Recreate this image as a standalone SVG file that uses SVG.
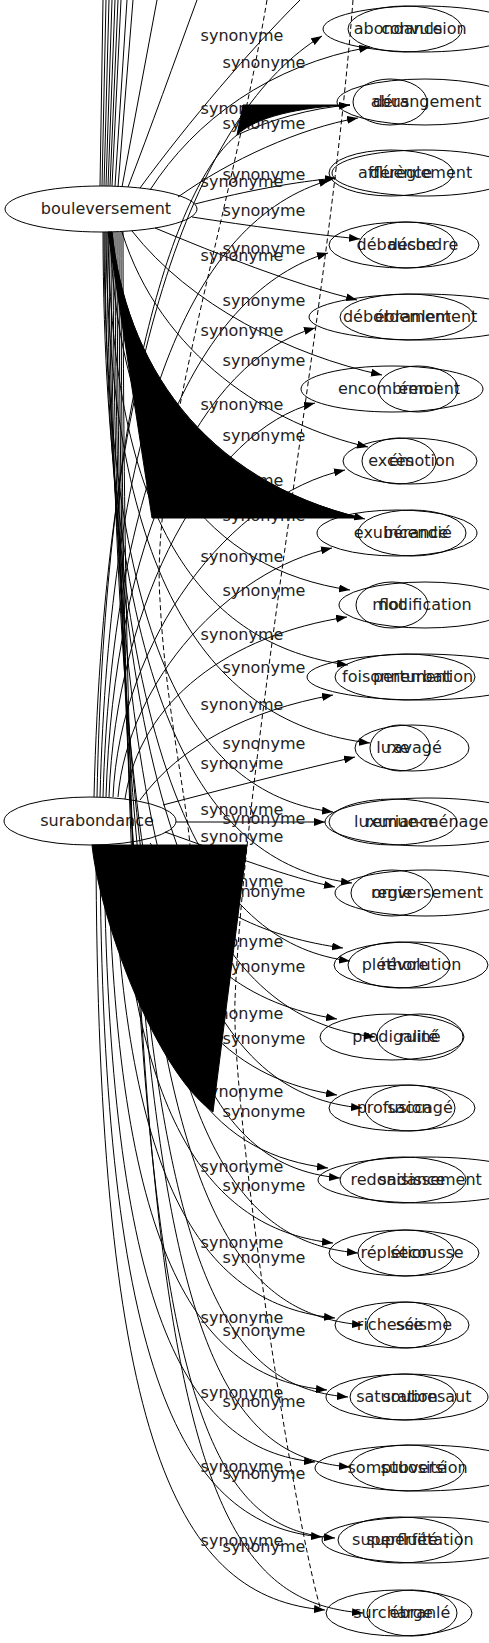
<svg xmlns="http://www.w3.org/2000/svg" width="489" height="1643" viewBox="0 0 489 1643">
<defs>
<marker id="a" markerWidth="11" markerHeight="8" refX="11" refY="4" orient="auto" markerUnits="userSpaceOnUse"><path d="M0,0 L11,4 L0,8 z" fill="#000"/></marker>
<style>
.n ellipse{fill:none;stroke:#000;stroke-width:1}
.t{font-family:"DejaVu Sans",sans-serif;font-size:16px;fill:#222;text-anchor:middle}
.e path{fill:none;stroke:#000;stroke-width:1}
.e .ar{marker-end:url(#a)}
.e .d{stroke-dasharray:5,3}
.e .blob{fill:#000;stroke:#000}
.l{font-family:"DejaVu Sans",sans-serif;font-size:16px;fill:#222;text-anchor:middle}
</style>
</defs>
<rect width="489" height="1643" fill="#fff"/>
<g id="nodes">
<g id="n-bouleversement" class="n"><ellipse cx="101" cy="209" rx="96" ry="23"/><text class="t" x="106" y="214">bouleversement</text></g>
<g id="n-surabondance" class="n"><ellipse cx="90" cy="821" rx="86" ry="24"/><text class="t" x="97" y="826">surabondance</text></g>
<g id="n-convulsion" class="n"><ellipse cx="422" cy="29" rx="99" ry="23"/><text class="t" x="424" y="34">convulsion</text></g>
<g id="n-abondance" class="n"><ellipse cx="405" cy="29" rx="57" ry="23"/><text class="t" x="398" y="34">abondance</text></g>
<g id="n-derangement" class="n"><ellipse cx="425" cy="102" rx="88" ry="23"/><text class="t" x="427" y="107">dérangement</text></g>
<g id="n-abus" class="n"><ellipse cx="390" cy="102" rx="37" ry="23"/><text class="t" x="390" y="107">abus</text></g>
<g id="n-dereglement" class="n"><ellipse cx="424" cy="173" rx="92" ry="23"/><text class="t" x="421" y="178">dérèglement</text></g>
<g id="n-affluence" class="n"><ellipse cx="391" cy="173" rx="62" ry="23"/><text class="t" x="395" y="178">affluence</text></g>
<g id="n-debauche" class="n"><ellipse cx="404" cy="245" rx="75" ry="23"/><text class="t" x="396" y="250">débauche</text></g>
<g id="n-desordre" class="n"><ellipse cx="407" cy="245" rx="48" ry="23"/><text class="t" x="423" y="250">désordre</text></g>
<g id="n-ebranlement" class="n"><ellipse cx="420" cy="317" rx="111" ry="23"/><text class="t" x="426" y="322">ébranlement</text></g>
<g id="n-debordement" class="n"><ellipse cx="407" cy="317" rx="67" ry="23"/><text class="t" x="397" y="322">débordement</text></g>
<g id="n-encombrement" class="n"><ellipse cx="392" cy="389" rx="91" ry="23"/><text class="t" x="399" y="394">encombrement</text></g>
<g id="n-emoi" class="n"><ellipse cx="418" cy="389" rx="40" ry="23"/><text class="t" x="418" y="394">émoi</text></g>
<g id="n-emotion" class="n"><ellipse cx="410" cy="461" rx="67" ry="23"/><text class="t" x="422" y="466">émotion</text></g>
<g id="n-exces" class="n"><ellipse cx="399" cy="461" rx="37" ry="23"/><text class="t" x="391" y="466">excès</text></g>
<g id="n-exuberance" class="n"><ellipse cx="397" cy="533" rx="80" ry="23"/><text class="t" x="401" y="538">exubérance</text></g>
<g id="n-incendie" class="n"><ellipse cx="412" cy="533" rx="54" ry="23"/><text class="t" x="418" y="538">incendié</text></g>
<g id="n-modification" class="n"><ellipse cx="425" cy="605" rx="86" ry="23"/><text class="t" x="422" y="610">modification</text></g>
<g id="n-flot" class="n"><ellipse cx="392" cy="605" rx="36" ry="23"/><text class="t" x="392" y="610">flot</text></g>
<g id="n-perturbation" class="n"><ellipse cx="420" cy="677" rx="113" ry="23"/><text class="t" x="423" y="682">perturbation</text></g>
<g id="n-foisonnement" class="n"><ellipse cx="405" cy="677" rx="70" ry="23"/><text class="t" x="397" y="682">foisonnement</text></g>
<g id="n-ravage" class="n"><ellipse cx="412" cy="748" rx="57" ry="23"/><text class="t" x="414" y="753">ravagé</text></g>
<g id="n-luxe" class="n"><ellipse cx="400" cy="748" rx="30" ry="23"/><text class="t" x="393" y="753">luxe</text></g>
<g id="n-remue-menage" class="n"><ellipse cx="428" cy="822" rx="103" ry="24"/><text class="t" x="427" y="827">remue-ménage</text></g>
<g id="n-luxuriance" class="n"><ellipse cx="393" cy="822" rx="64" ry="23"/><text class="t" x="396" y="827">luxuriance</text></g>
<g id="n-renversement" class="n"><ellipse cx="426" cy="893" rx="91" ry="23"/><text class="t" x="427" y="898">renversement</text></g>
<g id="n-orgie" class="n"><ellipse cx="392" cy="893" rx="41" ry="23"/><text class="t" x="392" y="898">orgie</text></g>
<g id="n-revolution" class="n"><ellipse cx="411" cy="965" rx="77" ry="23"/><text class="t" x="421" y="970">révolution</text></g>
<g id="n-plethore" class="n"><ellipse cx="399" cy="965" rx="51" ry="23"/><text class="t" x="395" y="970">pléthore</text></g>
<g id="n-prodigalite" class="n"><ellipse cx="392" cy="1037" rx="72" ry="23"/><text class="t" x="395" y="1042">prodigalité</text></g>
<g id="n-ruine" class="n"><ellipse cx="420" cy="1037" rx="43" ry="23"/><text class="t" x="420" y="1042">ruiné</text></g>
<g id="n-profusion" class="n"><ellipse cx="402" cy="1108" rx="73" ry="23"/><text class="t" x="394" y="1113">profusion</text></g>
<g id="n-saccage" class="n"><ellipse cx="410" cy="1108" rx="45" ry="23"/><text class="t" x="420" y="1113">saccagé</text></g>
<g id="n-saisissement" class="n"><ellipse cx="426" cy="1180" rx="108" ry="23"/><text class="t" x="430" y="1185">saisissement</text></g>
<g id="n-redondance" class="n"><ellipse cx="403" cy="1180" rx="63" ry="23"/><text class="t" x="398" y="1185">redondance</text></g>
<g id="n-secousse" class="n"><ellipse cx="404" cy="1253" rx="75" ry="23"/><text class="t" x="427" y="1258">secousse</text></g>
<g id="n-repletion" class="n"><ellipse cx="406" cy="1253" rx="48" ry="23"/><text class="t" x="396" y="1258">réplétion</text></g>
<g id="n-richesse" class="n"><ellipse cx="402" cy="1325" rx="67" ry="23"/><text class="t" x="390" y="1330">richesse</text></g>
<g id="n-seisme" class="n"><ellipse cx="407" cy="1325" rx="40" ry="23"/><text class="t" x="424" y="1330">séisme</text></g>
<g id="n-soubresaut" class="n"><ellipse cx="407" cy="1397" rx="81" ry="23"/><text class="t" x="427" y="1402">soubresaut</text></g>
<g id="n-saturation" class="n"><ellipse cx="403" cy="1397" rx="53" ry="23"/><text class="t" x="397" y="1402">saturation</text></g>
<g id="n-subversion" class="n"><ellipse cx="420" cy="1468" rx="105" ry="23"/><text class="t" x="424" y="1473">subversion</text></g>
<g id="n-somptuosite" class="n"><ellipse cx="407" cy="1468" rx="57" ry="23"/><text class="t" x="397" y="1473">somptuosité</text></g>
<g id="n-superfetation" class="n"><ellipse cx="424" cy="1540" rx="102" ry="23"/><text class="t" x="420" y="1545">superfétation</text></g>
<g id="n-superfluite" class="n"><ellipse cx="400" cy="1540" rx="62" ry="23"/><text class="t" x="395" y="1545">superfluité</text></g>
<g id="n-surcharge" class="n"><ellipse cx="399" cy="1613" rx="73" ry="23"/><text class="t" x="393" y="1618">surcharge</text></g>
<g id="n-ebranle" class="n"><ellipse cx="412" cy="1613" rx="45" ry="23"/><text class="t" x="420" y="1618">ébranlé</text></g>
</g>
<g id="connectors" class="e">
<path d="M100,186 L103,0"/><path d="M102,186 L106,0"/><path d="M104,186 L109,0"/><path d="M106,186 L112,0"/><path d="M108,186 L115,0"/><path d="M110,186 L118,0"/><path d="M112,186 L121,0"/><path d="M115,186 L127,0"/><path d="M118,187 L133,0"/><path d="M122,187 L157,0"/>
<path d="M128,187 C150,130 175,60 197,0"/><path d="M140,188 C190,120 250,50 300,0"/>
<path class="d" d="M267,0 C230,220 150,460 160,600 C165,700 185,790 190,845"/>
<path class="d" d="M353,0 C330,300 245,750 235,1000 C231,1100 290,1500 320,1607"/>
<path class="ar" d="M150,190 C195,120 270,65 370,47"/>
<path class="ar" d="M178,197 C230,160 300,128 358,118"/>
<path class="ar" d="M195,204 C250,190 295,182 336,178"/>
<path class="ar" d="M192,217 C250,226 310,234 360,239"/>
<path class="ar" d="M155,228 C220,255 290,283 357,300"/>
<path class="ar" d="M132,231 C190,305 290,355 382,375"/>
<path class="ar" d="M122,232 C160,355 270,425 368,447"/>
<path class="ar" d="M112,232 C125,360 200,480 365,519"/>
<path class="ar" d="M110,232 C118,460 210,570 350,590"/>
<path class="ar" d="M108,232 C112,520 200,645 348,665"/>
<path class="ar" d="M106,232 C108,580 210,725 370,743"/>
<path class="ar" d="M104,232 C105,660 200,795 333,812"/>
<path class="ar" d="M103,232 C104,720 210,865 352,883"/>
<path class="ar" d="M105,232 C106,800 220,945 350,961"/>
<path class="ar" d="M107,232 C108,880 230,1020 375,1037"/>
<path class="ar" d="M109,232 C110,950 220,1095 362,1108"/>
<path class="ar" d="M111,232 C112,1020 200,1165 340,1178"/>
<path class="ar" d="M113,232 C114,1090 210,1240 358,1253"/>
<path class="ar" d="M115,232 C116,1160 210,1312 363,1325"/>
<path class="ar" d="M117,232 C118,1230 200,1385 348,1397"/>
<path class="ar" d="M119,232 C120,1300 200,1455 350,1467"/>
<path class="ar" d="M121,232 C122,1370 190,1528 335,1538"/>
<path class="ar" d="M123,232 C124,1440 200,1600 363,1613"/>
<path class="ar" d="M94,797 C105,350 200,110 322,36"/>
<path class="ar" d="M97,797 C105,380 180,180 237,135 C270,120 310,108 350,105"/>
<path class="ar" d="M100,797 C110,420 190,220 330,180"/>
<path class="ar" d="M103,797 C112,480 200,290 328,253"/>
<path class="ar" d="M106,797 C114,540 200,360 315,328"/>
<path class="ar" d="M109,797 C116,600 210,430 315,403"/>
<path class="ar" d="M113,797 C120,640 230,495 345,470"/>
<path class="ar" d="M118,797 C128,680 230,570 332,548"/>
<path class="ar" d="M125,799 C140,700 230,635 347,617"/>
<path class="ar" d="M140,800 C180,745 250,710 333,695"/>
<path class="ar" d="M163,805 C220,790 290,772 355,757"/>
<path class="ar" d="M176,822 L325,822"/>
<path class="ar" d="M165,832 C230,855 290,878 335,887"/>
<path class="ar" d="M150,843 C200,910 270,938 343,948"/>
<path class="ar" d="M140,845 C180,960 250,1005 337,1019"/>
<path class="ar" d="M130,845 C160,1020 240,1080 337,1095"/>
<path class="ar" d="M124,845 C145,1080 220,1155 328,1168"/>
<path class="ar" d="M118,845 C135,1130 215,1230 333,1243"/>
<path class="ar" d="M113,845 C125,1190 205,1305 335,1318"/>
<path class="ar" d="M108,845 C115,1250 195,1378 327,1390"/>
<path class="ar" d="M104,845 C108,1310 185,1450 315,1462"/>
<path class="ar" d="M100,845 C102,1380 185,1525 322,1537"/>
<path class="ar" d="M96,845 C97,1450 180,1598 325,1610"/>
<g id="labels">
<text class="l" x="242" y="41">synonyme</text><text class="l" x="264" y="68">synonyme</text>
<text class="l" x="242" y="114">synonyme</text><text class="l" x="264" y="129">synonyme</text>
<text class="l" x="264" y="180">synonyme</text><text class="l" x="242" y="187">synonyme</text>
<text class="l" x="264" y="216">synonyme</text>
<text class="l" x="264" y="254">synonyme</text><text class="l" x="242" y="261">synonyme</text>
<text class="l" x="264" y="306">synonyme</text><text class="l" x="242" y="336">synonyme</text>
<text class="l" x="264" y="366">synonyme</text><text class="l" x="242" y="410">synonyme</text>
<text class="l" x="264" y="441">synonyme</text><text class="l" x="242" y="486">synonyme</text>
<text class="l" x="264" y="521">synonyme</text><text class="l" x="242" y="562">synonyme</text>
<text class="l" x="264" y="596">synonyme</text><text class="l" x="242" y="640">synonyme</text>
<text class="l" x="264" y="673">synonyme</text><text class="l" x="242" y="710">synonyme</text>
<text class="l" x="264" y="749">synonyme</text><text class="l" x="242" y="769">synonyme</text>
<text class="l" x="242" y="815">synonyme</text><text class="l" x="264" y="824">synonyme</text><text class="l" x="242" y="842">synonyme</text>
<text class="l" x="242" y="887">synonyme</text><text class="l" x="264" y="897">synonyme</text>
<text class="l" x="242" y="947">synonyme</text><text class="l" x="264" y="972">synonyme</text>
<text class="l" x="242" y="1019">synonyme</text><text class="l" x="264" y="1044">synonyme</text>
<text class="l" x="242" y="1097">synonyme</text><text class="l" x="264" y="1117">synonyme</text>
<text class="l" x="242" y="1172">synonyme</text><text class="l" x="264" y="1191">synonyme</text>
<text class="l" x="242" y="1248">synonyme</text><text class="l" x="264" y="1263">synonyme</text>
<text class="l" x="242" y="1323">synonyme</text><text class="l" x="264" y="1336">synonyme</text>
<text class="l" x="242" y="1398">synonyme</text><text class="l" x="264" y="1407">synonyme</text>
<text class="l" x="242" y="1472">synonyme</text><text class="l" x="264" y="1479">synonyme</text>
<text class="l" x="242" y="1546">synonyme</text><text class="l" x="264" y="1552">synonyme</text>
</g>
<path class="blob" d="M243,105 L350,105 C300,107 255,117 237,135 Z"/>
<path class="blob" d="M108,232 L152,518 L362,518 C200,480 125,360 112,232 Z"/>
<path class="blob" d="M92,845 L247,845 L213,1112 C155,1070 100,920 92,845 Z"/>
</g>
</svg>
